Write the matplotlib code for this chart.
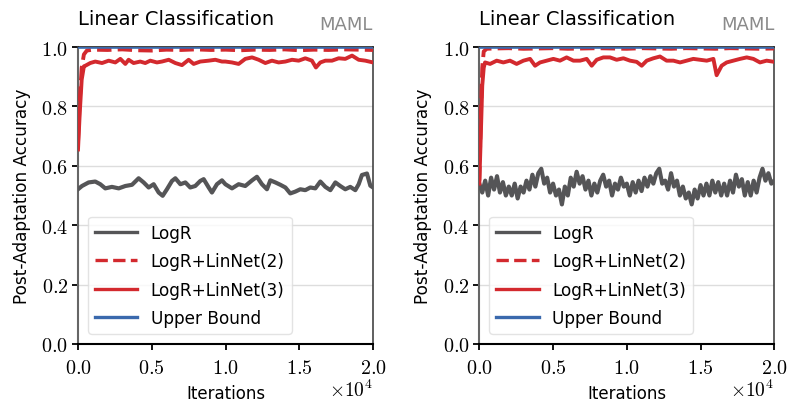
import matplotlib
matplotlib.use("Agg")
import matplotlib.pyplot as plt
from matplotlib.ticker import FixedLocator, FuncFormatter

plt.rcParams['mathtext.fontset'] = 'cm'
plt.rcParams['font.family'] = ['DejaVu Sans']

# ---------------- data ----------------
title_text = "Linear Classification"
method_text = "MAML"
series_labels = ["LogR", "LogR+LinNet(2)", "LogR+LinNet(3)", "Upper Bound"]
x_ticks = [0, 5000, 10000, 15000, 20000]
y_ticks = [0.0, 0.2, 0.4, 0.6, 0.8, 1.0]

# left panel
left_gray_iter = [0, 270, 720, 1170, 1510, 1850, 2300, 2760, 3210, 3660, 4110, 4450, 4790, 5130,
                  5470, 5740, 6030, 6370, 6600, 6940, 7280, 7610, 7950, 8290, 8520, 8860, 9080,
                  9420, 9760, 9990, 10440, 10890, 11340, 11800, 12130, 12470, 12810, 13040, 13380,
                  13720, 14060, 14390, 14730, 15070, 15410, 15750, 16090, 16430, 16770, 17110,
                  17450, 17780, 18120, 18460, 18800, 19030, 19250, 19590, 19820, 20000]
left_gray_acc = [0.521, 0.532, 0.544, 0.547, 0.538, 0.524, 0.529, 0.524, 0.532, 0.536, 0.558, 0.544,
                 0.527, 0.538, 0.510, 0.499, 0.521, 0.549, 0.558, 0.538, 0.544, 0.527, 0.532, 0.549,
                 0.555, 0.527, 0.510, 0.538, 0.551, 0.538, 0.524, 0.538, 0.532, 0.551, 0.563, 0.538,
                 0.521, 0.551, 0.544, 0.536, 0.527, 0.507, 0.513, 0.521, 0.518, 0.527, 0.524, 0.547,
                 0.529, 0.518, 0.544, 0.532, 0.521, 0.529, 0.518, 0.538, 0.569, 0.574, 0.533, 0.527]

left_lin2_iter = [0, 120, 250, 400, 600, 1000, 2000, 3000, 4000, 5000, 6000, 7000, 8000, 9000,
                  10000, 11000, 12000, 13000, 14000, 15000, 16000, 17000, 18000, 19000, 20000]
left_lin2_acc = [0.68, 0.82, 0.93, 0.975, 0.988, 0.991, 0.990, 0.992, 0.989, 0.988, 0.991, 0.990,
                 0.992, 0.990, 0.991, 0.989, 0.991, 0.990, 0.992, 0.989, 0.991, 0.990, 0.992, 0.991,
                 0.990]

left_lin3_iter = [0, 120, 250, 400, 500, 830, 1170, 1630, 2080, 2530, 2870, 3210, 3430, 3770, 4220,
                  4560, 4900, 5350, 5690, 6150, 6600, 7050, 7500, 7840, 8290, 8860, 9310, 9760,
                  9990, 10440, 10890, 11340, 11800, 12250, 12700, 13150, 13600, 14060, 14510, 14960,
                  15410, 15860, 16130, 16430, 16770, 17220, 17670, 18120, 18580, 19030, 19480, 20000]
left_lin3_acc = [0.655, 0.78, 0.89, 0.935, 0.937, 0.946, 0.951, 0.946, 0.954, 0.948, 0.960, 0.943,
                 0.957, 0.946, 0.951, 0.946, 0.954, 0.948, 0.951, 0.957, 0.946, 0.939, 0.957, 0.943,
                 0.951, 0.954, 0.957, 0.951, 0.951, 0.948, 0.943, 0.960, 0.965, 0.957, 0.946, 0.954,
                 0.948, 0.951, 0.957, 0.954, 0.962, 0.954, 0.931, 0.948, 0.954, 0.954, 0.962, 0.960,
                 0.971, 0.957, 0.954, 0.948]

# right panel
right_gray_iter = list(range(0, 20001, 200))
right_gray_acc = [0.54, 0.51, 0.55, 0.50, 0.56, 0.52, 0.565, 0.51, 0.545, 0.50,
                  0.53, 0.50, 0.54, 0.49, 0.53, 0.51, 0.55, 0.52, 0.57, 0.53,
                  0.575, 0.59, 0.54, 0.56, 0.51, 0.54, 0.50, 0.52, 0.47, 0.53,
                  0.50, 0.56, 0.53, 0.58, 0.54, 0.565, 0.52, 0.55, 0.50, 0.54,
                  0.51, 0.55, 0.57, 0.53, 0.55, 0.50, 0.54, 0.52, 0.56, 0.53,
                  0.54, 0.50, 0.545, 0.51, 0.55, 0.515, 0.56, 0.53, 0.565, 0.54,
                  0.575, 0.59, 0.54, 0.55, 0.52, 0.575, 0.53, 0.55, 0.50, 0.53,
                  0.49, 0.51, 0.47, 0.52, 0.49, 0.535, 0.50, 0.54, 0.50, 0.55,
                  0.51, 0.545, 0.50, 0.54, 0.50, 0.55, 0.51, 0.57, 0.53, 0.555,
                  0.50, 0.545, 0.50, 0.55, 0.51, 0.56, 0.59, 0.55, 0.575, 0.54,
                  0.55]

right_lin2_iter = [0, 100, 200, 300, 500, 1000, 2000, 3000, 4000, 5000, 6000, 7000, 8000, 9000,
                   10000, 11000, 12000, 13000, 14000, 15000, 16000, 17000, 18000, 19000, 20000]
right_lin2_acc = [0.55, 0.76, 0.93, 0.985, 0.994, 0.995, 0.996, 0.994, 0.995, 0.996, 0.994, 0.995,
                  0.996, 0.995, 0.994, 0.996, 0.995, 0.994, 0.996, 0.995, 0.994, 0.996, 0.995,
                  0.994, 0.995]

right_lin3_iter = [0, 100, 200, 300, 390, 730, 1180, 1630, 2080, 2530, 2990, 3440, 3780, 4120,
                   4570, 5020, 5470, 5920, 6380, 6830, 7280, 7620, 7960, 8410, 8860, 9310, 9770,
                   10220, 10670, 11010, 11350, 11800, 12250, 12700, 13160, 13610, 14060, 14510,
                   14960, 15420, 15870, 16090, 16430, 16770, 17220, 17680, 18130, 18580, 19030,
                   19480, 20000]
right_lin3_acc = [0.54, 0.70, 0.87, 0.93, 0.948, 0.943, 0.954, 0.948, 0.954, 0.943, 0.954, 0.960,
                  0.937, 0.948, 0.954, 0.960, 0.954, 0.965, 0.954, 0.954, 0.960, 0.937, 0.957,
                  0.965, 0.965, 0.957, 0.962, 0.954, 0.950, 0.937, 0.954, 0.962, 0.968, 0.954,
                  0.954, 0.948, 0.954, 0.960, 0.957, 0.954, 0.960, 0.905, 0.937, 0.948, 0.954,
                  0.960, 0.965, 0.960, 0.948, 0.954, 0.950]

upper_iter = [0, 20000]
upper_acc = [1.0, 1.0]

panels = [
    (left_gray_iter, left_gray_acc, left_lin2_iter, left_lin2_acc, left_lin3_iter, left_lin3_acc),
    (right_gray_iter, right_gray_acc, right_lin2_iter, right_lin2_acc, right_lin3_iter, right_lin3_acc),
]

GRAY = '#555557'
RED = '#d3292e'
BLUE = '#3a69ad'

fig = plt.figure(figsize=(7.87, 4.02), dpi=100)
W, H = 787.0, 402.0
lefts = [78.0, 479.3]
for k, (gi, ga, l2i, l2a, l3i, l3a) in enumerate(panels):
    ax = fig.add_axes([lefts[k] / W, (H - 345.0) / H, 295.0 / W, 297.0 / H])
    ax.plot(gi, ga, color=GRAY, lw=3.0, label=series_labels[0], zorder=3)
    ax.plot(l2i, l2a, color=RED, lw=2.8, ls='--', label=series_labels[1], zorder=4)
    ax.plot(l3i, l3a, color=RED, lw=2.8, label=series_labels[2], zorder=4)
    ax.plot(upper_iter, upper_acc, color=BLUE, lw=2.6, label=series_labels[3], zorder=5)

    ax.set_xlim(0, 20000)
    ax.set_ylim(0.0, 1.0)
    ax.xaxis.set_major_locator(FixedLocator(x_ticks))
    ax.yaxis.set_major_locator(FixedLocator(y_ticks))
    ax.xaxis.set_major_formatter(FuncFormatter(lambda v, p: r'$%.1f$' % (v / 1e4)))
    ax.yaxis.set_major_formatter(FuncFormatter(lambda v, p: r'$%.1f$' % v))
    ax.tick_params(axis='both', labelsize=14.5, direction='out', length=4, width=1.3, color='black')
    ax.tick_params(axis='x', pad=6)
    ax.tick_params(axis='y', pad=3)
    ax.grid(axis='y', color='#dddddd', lw=1.0, zorder=0)
    ax.set_axisbelow(True)

    ax.spines['left'].set_color('#666666')
    ax.spines['left'].set_linewidth(1.5)
    ax.spines['bottom'].set_color('black')
    ax.spines['bottom'].set_linewidth(1.5)
    ax.spines['top'].set_color('#222222')
    ax.spines['top'].set_linewidth(1.2)
    ax.spines['right'].set_color('#444444')
    ax.spines['right'].set_linewidth(1.2)

    ax.set_ylabel('Post-Adaptation Accuracy', fontsize=12.2)
    ax.yaxis.set_label_coords(-0.16, 0.5)
    ax.set_xlabel('Iterations', fontsize=12)
    ax.xaxis.set_label_coords(0.5, -0.135)

    ax.text(0.0, 1.077, title_text, transform=ax.transAxes, ha='left', va='baseline',
            fontsize=14, color='black')
    ax.text(1.0, 1.06, method_text, transform=ax.transAxes, ha='right', va='baseline',
            fontsize=13, color='#8a8a8a')
    ax.text(1.0, -0.175, r'$\times10^{4}$', transform=ax.transAxes, ha='right', va='baseline',
            fontsize=14)

    leg = ax.legend(loc='lower left', fontsize=12.2, handlelength=2.5, labelspacing=0.62,
                    borderaxespad=0.6, framealpha=0.8, fancybox=True)
    leg.get_frame().set_edgecolor('#dddddd')
    for line in leg.get_lines():
        line.set_linewidth(2.4)

fig.savefig('out.png', dpi=100)
